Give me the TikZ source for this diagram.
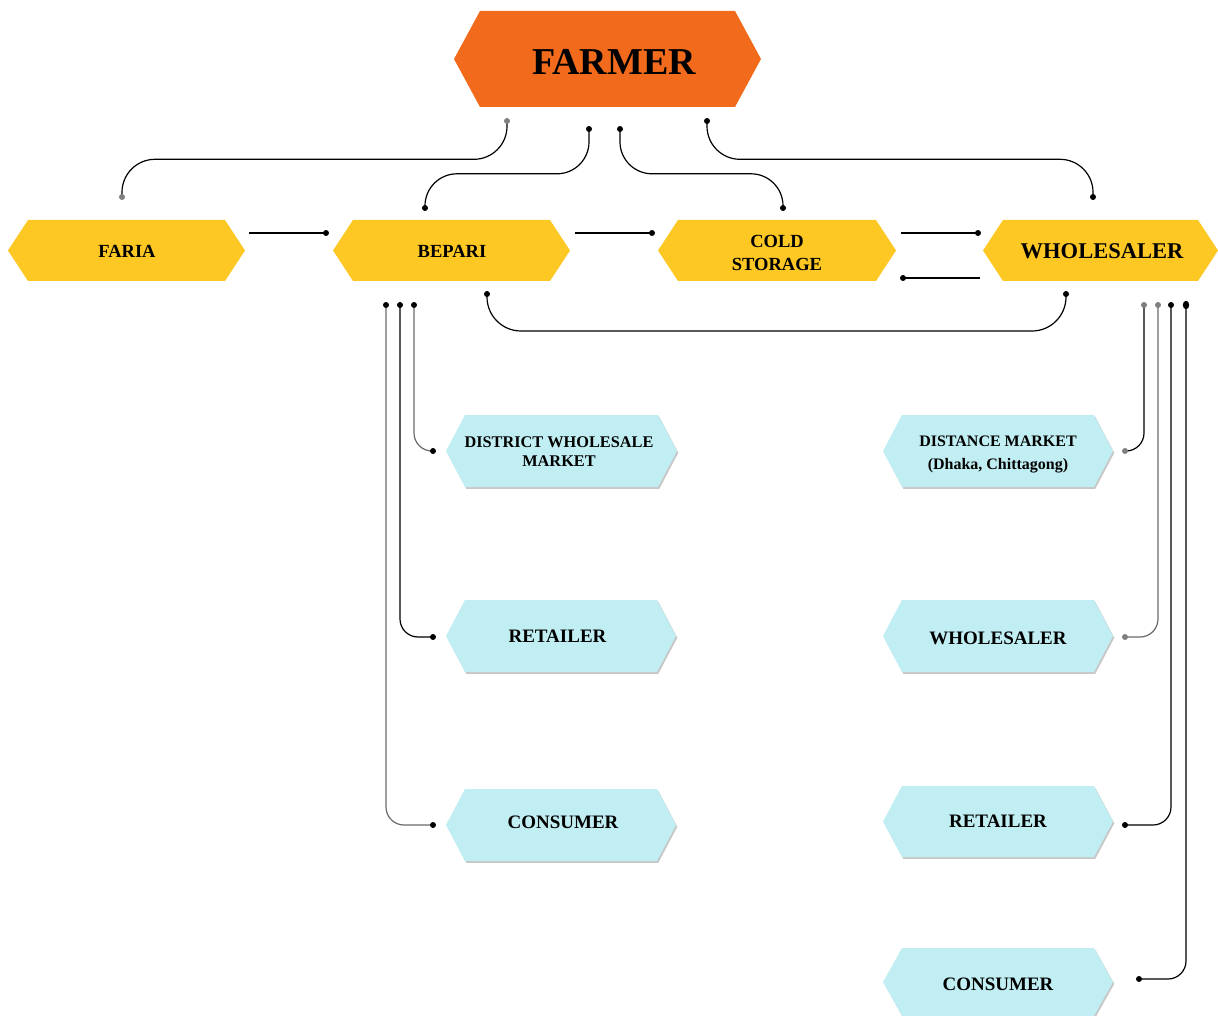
\documentclass[tikz,border=0pt]{standalone}
\usepackage{fontspec}
\setmainfont{Liberation Serif}
\usetikzlibrary{calc}
\definecolor{farmerc}{HTML}{F26A1B}
\definecolor{yellowc}{HTML}{FDC724}
\definecolor{bluec}{HTML}{C1EEF2}
\definecolor{dotgray}{HTML}{7F7F7F}
\definecolor{linegray}{HTML}{6A6A6A}

% hexagon: style, left x, right x, top y, bottom y, point offset
\newcommand\hexshape[6]{%
  \fill[#1] (#2,{(#4+#5)/2}) -- ({#2+#6},#4) -- ({#3-#6},#4) -- (#3,{(#4+#5)/2}) -- ({#3-#6},#5) -- ({#2+#6},#5) -- cycle;}
\newcommand\bluehex[4]{%
  \hexshape{black!22,shift={(1.3,1.8)}}{#1}{#2}{#3}{#4}{19}%
  \hexshape{bluec}{#1}{#2}{#3}{#4}{19}}

\tikzset{
  conn/.style={line width=1.2pt, draw=black},
  graycon/.style={line width=1.2pt, draw=linegray},
  bigtxt/.style={font=\bfseries\fontsize{38}{40}\selectfont, inner sep=0pt},
  ytxt/.style={font=\bfseries\fontsize{18.5}{23}\selectfont, align=center, inner sep=0pt},
  wtxt/.style={font=\bfseries\fontsize{22.5}{24}\selectfont, inner sep=0pt},
  btxt/.style={font=\bfseries\fontsize{19}{22}\selectfont, inner sep=0pt},
  bstxt/.style={font=\bfseries\fontsize{16.3}{18.5}\selectfont, align=center, inner sep=0pt},
  dtxt/.style={font=\bfseries\fontsize{16}{22.5}\selectfont, align=center, inner sep=0pt},
}
\newcommand\dotat[2][black]{\fill[#1] (#2) circle (3);}

\begin{document}
\begin{tikzpicture}[x=1pt,y=-1pt]
\useasboundingbox (0,0) rectangle (1218,1016);

% ---------- shapes ----------
\hexshape{farmerc}{454}{761}{11}{107}{26}
\hexshape{yellowc}{8}{245}{220}{281}{20}
\hexshape{yellowc}{333}{570}{220}{281}{20}
\hexshape{yellowc}{658}{896}{220}{281}{20}
\hexshape{yellowc}{983}{1218}{220}{281}{20}

\bluehex{446}{677}{415}{487}
\bluehex{446}{676}{600}{672}
\bluehex{446}{676}{789}{861}
\bluehex{883}{1113}{415}{487}
\bluehex{883}{1113}{600}{672}
\bluehex{883}{1113}{786}{857}
\bluehex{883}{1113}{948}{1016}

% ---------- texts ----------
\node[bigtxt] (farmer) at (614,62) {FARMER};
\node[ytxt] (faria) at (127,251) {FARIA};
\node[ytxt] (bepari) at (452,251) {BEPARI};
\node[ytxt] (cold) at (777,252.5) {COLD\\STORAGE};
\node[wtxt] (wholesaler) at (1102,251) {WHOLESALER};

\node[bstxt] (dwm) at (559,451.5) {DISTRICT WHOLESALE\\MARKET};
\node[btxt] (bret) at (557.5,636) {RETAILER};
\node[btxt] (bcon) at (563,822.5) {CONSUMER};
\node[dtxt] (dist) at (998,454.5) {DISTANCE MARKET\\(Dhaka, Chittagong)};
\node[btxt] (wwho) at (998,638) {WHOLESALER};
\node[btxt] (wret) at (998,821) {RETAILER};
\node[btxt] (wcon) at (998,984.5) {CONSUMER};

% ---------- connector end points ----------
\coordinate (f1) at (507,121);   \coordinate (t1) at (122,197);
\coordinate (f2) at (589,129);   \coordinate (t2) at (425,208);
\coordinate (f3) at (620,129);   \coordinate (t3) at (783,208);
\coordinate (f4) at (707,121);   \coordinate (t4) at (1093,197);
\coordinate (h1) at (0,159.3);   \coordinate (h2) at (0,173.8);

\coordinate (bw1) at (487,294);  \coordinate (bw2) at (1066,294);
\coordinate (h3) at (0,331);

\coordinate (fa1) at (249,233);  \coordinate (fa2) at (326,233);
\coordinate (be1) at (575,233);  \coordinate (be2) at (652,233);
\coordinate (co1) at (901,233);  \coordinate (co2) at (978,233);
\coordinate (wh1) at (980,278);  \coordinate (wh2) at (903,278);

\coordinate (bv1) at (414,305);  \coordinate (be_dwm) at (433,451);
\coordinate (bv2) at (400,305);  \coordinate (be_ret) at (433,637);
\coordinate (bv3) at (386,305);  \coordinate (be_con) at (433,825);

\coordinate (wv1) at (1144,305); \coordinate (wh_dist) at (1125,451);
\coordinate (wv2) at (1158,305); \coordinate (wh_who) at (1125,637);
\coordinate (wv3) at (1171,305); \coordinate (wh_ret) at (1125,825);
\coordinate (wv4) at (1186,305); \coordinate (wh_con) at (1139,979);

% ---------- connectors ----------
\draw[conn, rounded corners=33] (f1) -- (f1 |- h1) -- (t1 |- h1) -- (t1);
\draw[conn, rounded corners=32] (f2) -- (f2 |- h2) -- (t2 |- h2) -- (t2);
\draw[conn, rounded corners=32] (f3) -- (f3 |- h2) -- (t3 |- h2) -- (t3);
\draw[conn, rounded corners=33] (f4) -- (f4 |- h1) -- (t4 |- h1) -- (t4);
\draw[conn, rounded corners=34] (bw1) -- (bw1 |- h3) -- (bw2 |- h3) -- (bw2);

\draw[conn] (fa1) -- (fa2);
\draw[conn] (be1) -- (be2);
\draw[conn] (co1) -- (co2);
\draw[conn] (wh1) -- (wh2);

\draw[graycon, rounded corners=18] (bv1) -- (bv1 |- be_dwm) -- (be_dwm);
\draw[conn, rounded corners=18] (bv2) -- (bv2 |- be_ret) -- (be_ret);
\draw[graycon, rounded corners=18] (bv3) -- (bv3 |- be_con) -- (be_con);

\draw[conn, rounded corners=18] (wv1) -- (wv1 |- wh_dist) -- (wh_dist);
\draw[graycon, rounded corners=18] (wv2) -- (wv2 |- wh_who) -- (wh_who);
\draw[conn, rounded corners=18] (wv3) -- (wv3 |- wh_ret) -- (wh_ret);
\draw[conn, rounded corners=18] (wv4) -- (wv4 |- wh_con) -- (wh_con);

% ---------- dots ----------
\dotat[dotgray]{f1} \dotat[dotgray]{t1}
\dotat{f2} \dotat{t2} \dotat{f3} \dotat{t3} \dotat{f4} \dotat{t4}
\dotat{bw1} \dotat{bw2}
\dotat{fa2} \dotat{be2} \dotat{co2} \dotat{wh2}
\dotat{bv1} \dotat{bv2} \dotat{bv3}
\dotat{be_dwm} \dotat{be_ret} \dotat{be_con}
\dotat[dotgray]{wv1} \dotat[dotgray]{wv2} \dotat{wv3}
\fill (wv4) ellipse (3.2 and 4.2);
\dotat[dotgray]{wh_dist} \dotat[dotgray]{wh_who} \dotat{wh_ret} \dotat{wh_con}
\end{tikzpicture}
\end{document}
